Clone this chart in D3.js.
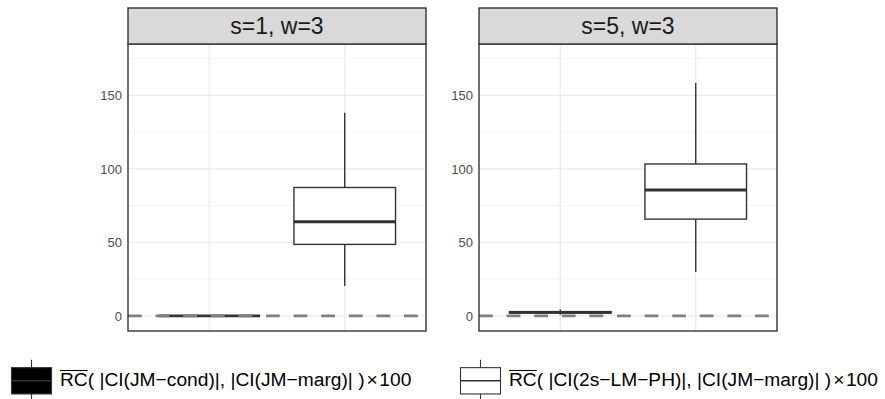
<!DOCTYPE html>
<html><head><meta charset="utf-8">
<script src="https://cdn.jsdelivr.net/npm/d3@7"></script>
<style>body{margin:0;background:#fff}svg{display:block}text{font-family:"Liberation Sans",Arial,Helvetica,sans-serif}</style>
</head><body>
<script>
// ---- data ----
const panels = ["s=1, w=3", "s=5, w=3"];
const groups = ["JM-cond", "2s-LM-PH"];
const groupFill = ["#000000", "#ffffff"];
// box stats per panel: [low whisker, Q1, median, Q3, high whisker]
const statsS1 = [[0, 0, 0, 0, 0], [20.3, 48.6, 64, 87.3, 138.2]];
const statsS5 = [[0.8, 1.9, 2.3, 2.9, 4.3], [29.8, 65.8, 85.6, 103.3, 158.4]];
const yTicks = [0, 50, 100, 150];
const yMinor = [25, 75, 125, 175];
const refLine = 0;
const legendLabels = ["JM\u2212cond", "2s\u2212LM\u2212PH"];

const W = 885, H = 399;
const svg = d3.select("body").append("svg").attr("width", W).attr("height", H);

const panelX = [128, 479], panelW = 298;
const stripTop = 8, stripBot = 44, panelBot = 331;
const y = d3.scaleLinear().domain([-10.3, 184.9]).range([panelBot, stripBot]);
const allStats = [statsS1, statsS5];

panels.forEach((p, i) => {
  const x0 = panelX[i];
  // discrete expansion: positions 1,2 in range [0.4,2.6]
  const xp = d3.scaleLinear().domain([0.4, 2.6]).range([x0, x0 + panelW]);
  const bw = xp(0.75) - xp(0);
  const g = svg.append("g");
  // grid
  g.selectAll(".ymin").data(yMinor).join("line")
    .attr("x1", x0).attr("x2", x0 + panelW).attr("y1", d => y(d)).attr("y2", d => y(d))
    .attr("stroke", "#f2f2f2").attr("stroke-width", 0.8);
  g.selectAll(".ymaj").data(yTicks).join("line")
    .attr("x1", x0).attr("x2", x0 + panelW).attr("y1", d => y(d)).attr("y2", d => y(d))
    .attr("stroke", "#ebebeb").attr("stroke-width", 1.3);
  g.selectAll(".xmaj").data(groups).join("line")
    .attr("x1", (d, j) => xp(j + 1)).attr("x2", (d, j) => xp(j + 1))
    .attr("y1", stripBot).attr("y2", panelBot)
    .attr("stroke", "#ebebeb").attr("stroke-width", 1.3);
  // boxes
  allStats[i].forEach((s, j) => {
    const cx = xp(j + 1);
    const bg = g.append("g");
    bg.append("line").attr("x1", cx).attr("x2", cx).attr("y1", y(s[3])).attr("y2", y(s[4]))
      .attr("stroke", "#333").attr("stroke-width", 1.4);
    bg.append("line").attr("x1", cx).attr("x2", cx).attr("y1", y(s[1])).attr("y2", y(s[0]))
      .attr("stroke", "#333").attr("stroke-width", 1.4);
    bg.append("rect").attr("x", cx - bw / 2).attr("width", bw)
      .attr("y", y(s[3])).attr("height", Math.max(0, y(s[1]) - y(s[3])))
      .attr("fill", groupFill[j]).attr("stroke", "#333").attr("stroke-width", 1.4);
    bg.append("line").attr("x1", cx - bw / 2).attr("x2", cx + bw / 2).attr("y1", y(s[2])).attr("y2", y(s[2]))
      .attr("stroke", "#333").attr("stroke-width", 2.8);
  });
  // dashed reference line
  g.append("line").attr("x1", x0).attr("x2", x0 + panelW).attr("y1", y(refLine)).attr("y2", y(refLine))
    .attr("stroke", "#7f7f7f").attr("stroke-width", 2.8).attr("stroke-dasharray", "13.8,13.8");
  // panel border
  g.append("rect").attr("x", x0).attr("y", stripBot).attr("width", panelW).attr("height", panelBot - stripBot)
    .attr("fill", "none").attr("stroke", "#333").attr("stroke-width", 1.4);
  // strip
  g.append("rect").attr("x", x0).attr("y", stripTop).attr("width", panelW).attr("height", stripBot - stripTop)
    .attr("fill", "#d9d9d9").attr("stroke", "#333").attr("stroke-width", 1.4);
  g.append("text").attr("x", x0 + panelW / 2).attr("y", (stripTop + stripBot) / 2).attr("dy", "0.36em")
    .attr("text-anchor", "middle").attr("font-size", 23).attr("fill", "#1a1a1a").text(p);
  // y axis labels
  g.selectAll(".yl").data(yTicks).join("text")
    .attr("x", x0 - 6).attr("y", d => y(d)).attr("dy", "0.36em").attr("text-anchor", "end")
    .attr("font-size", 13).attr("fill", "#4d4d4d").text(d => d);
});

// legend
const legX = [10, 459];
const keyTop = 354.5, keyH = 52.6;
groups.forEach((gname, j) => {
  const lx = legX[j];
  const g = svg.append("g");
  const cx = lx + 21.5;
  g.append("line").attr("x1", cx).attr("x2", cx).attr("y1", keyTop + keyH * 0.1).attr("y2", keyTop + keyH * 0.9)
    .attr("stroke", "#333").attr("stroke-width", 1.1);
  g.append("rect").attr("x", lx + 1.5).attr("width", 40).attr("y", keyTop + keyH * 0.25).attr("height", keyH * 0.5)
    .attr("fill", groupFill[j]).attr("stroke", "#333").attr("stroke-width", 1.1);
  g.append("line").attr("x1", lx + 1.5).attr("x2", lx + 41.5).attr("y1", keyTop + keyH * 0.5).attr("y2", keyTop + keyH * 0.5)
    .attr("stroke", "#333").attr("stroke-width", 1.4);
  const t = g.append("text").attr("x", lx + 50).attr("y", 386).attr("font-size", 19.2).attr("fill", "#000");
  const rc = t.append("tspan").text("RC");
  t.append("tspan").text("( |CI(" + legendLabels[j] + ")|, |CI(JM\u2212marg)| )");
  t.append("tspan").attr("dx", 2).text("\u00d7");
  t.append("tspan").attr("dx", 1.5).text("100");
  const rcW = rc.node().getComputedTextLength();
  g.append("line").attr("x1", lx + 50).attr("x2", lx + 50 + rcW).attr("y1", 370.5).attr("y2", 370.5)
    .attr("stroke", "#000").attr("stroke-width", 1.1);
});
</script>
</body></html>
